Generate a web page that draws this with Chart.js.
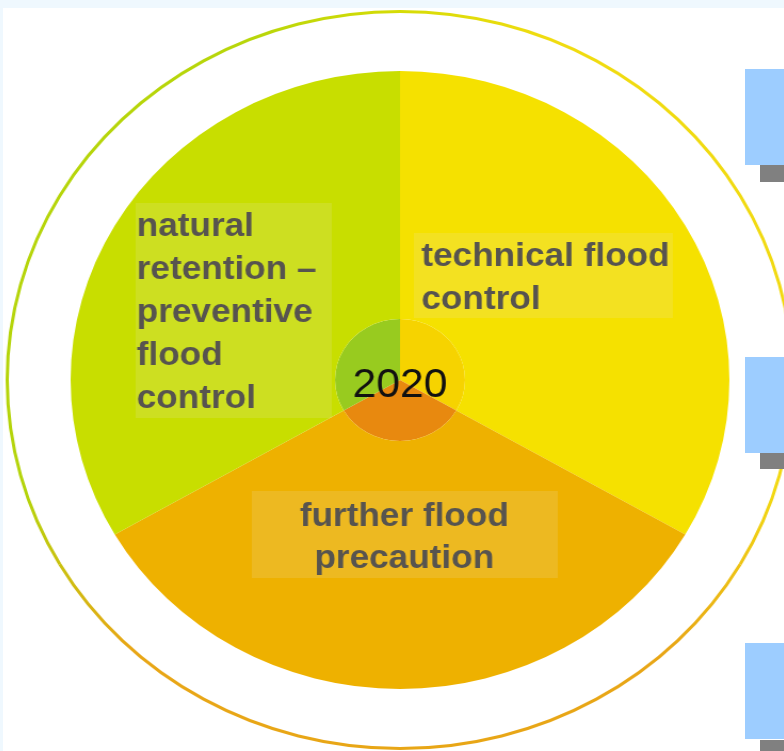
<!DOCTYPE html>
<html>
<head>
<meta charset="utf-8">
<script src="https://cdn.jsdelivr.net/npm/chart.js@4"></script>
<style>
  html, body { margin:0; padding:0; width:784px; height:751px; overflow:hidden; background:#eff8fe; }
  #panel { position:absolute; left:3px; top:8px; right:0; bottom:0; background:#fff; }
  #chart { position:absolute; left:0; top:0; transform:scaleX(1.066); transform-origin:400px 0; }
  .tab { position:absolute; left:745px; width:39px; height:96px; background:#9dcdff; }
  .shadow { position:absolute; left:760px; width:24px; background:#808080; }
</style>
</head>
<body>
<div id="panel"></div>
<canvas id="chart" width="784" height="751"></canvas>
<div class="shadow" style="top:165px;height:17px"></div>
<div class="tab" style="top:69px"></div>
<div class="shadow" style="top:453px;height:16px"></div>
<div class="tab" style="top:357px"></div>
<div class="shadow" style="top:740px;height:11px"></div>
<div class="tab" style="top:643px"></div>
<script>
// ── Données ───────────────────────────────────────────────────────────────────
const categories  = ['technical flood control', 'further flood precaution', 'natural retention – preventive flood control'];
const shares      = [1, 1, 1];
const labelLines  = [
  ['technical flood', 'control'],
  ['further flood', 'precaution'],
  ['natural', 'retention –', 'preventive', 'flood', 'control'],
];
const centerLabel = '2020';

// ── Couleurs ──────────────────────────────────────────────────────────────────
const sliceColors  = ['#f5e100', '#eeb100', '#c8de00'];
const centerColors = ['#f6d300', '#e8890f', '#98cb1f'];

// boîtes de texte, décalages depuis le centre du camembert (px, avant étirement)
const labelBoxes = [
  { box: [13, -147, 243, 85],  x: 20,   align: 'left',   lines: [-123, -80] },
  { box: [-139, 111, 287, 87], x: 4,    align: 'center', lines: [137, 179] },
  { box: [-248, -177, 184, 215], x: -247, align: 'left', lines: [-153, -110, -67, -24, 19] },
];

let ringGradient = null;
function ringColor(ctx) {
  const chart = ctx.chart;
  const area = chart.chartArea;
  if (!area) return '#e0d000';
  if (ringGradient) return ringGradient;
  const cx = (area.left + area.right) / 2;
  const cy = (area.top + area.bottom) / 2;
  const g = chart.ctx.createConicGradient(-Math.PI / 2, cx, cy);
  g.addColorStop(0.00, '#d6dc06');
  g.addColorStop(0.06, '#f0dc10');
  g.addColorStop(0.30, '#f2d812');
  g.addColorStop(0.38, '#e8a616');
  g.addColorStop(0.62, '#e8a616');
  g.addColorStop(0.70, '#b4d40a');
  g.addColorStop(0.94, '#b8d60a');
  g.addColorStop(1.00, '#d6dc06');
  ringGradient = g;
  return g;
}

const labelPlugin = {
  id: 'sliceLabels',
  afterDatasetsDraw(chart) {
    const { ctx, chartArea } = chart;
    const cx = (chartArea.left + chartArea.right) / 2;
    const cy = (chartArea.top + chartArea.bottom) / 2;
    ctx.save();
    labelBoxes.forEach((b, i) => {
      ctx.fillStyle = 'rgba(235,232,205,0.16)';
      ctx.fillRect(cx + b.box[0], cy + b.box[1], b.box[2], b.box[3]);
      ctx.fillStyle = '#57544f';
      ctx.font = 'bold 33px "Liberation Sans", Arial, sans-serif';
      ctx.textAlign = b.align;
      ctx.textBaseline = 'middle';
      labelLines[i].forEach((line, k) => ctx.fillText(line, cx + b.x, cy + b.lines[k]));
    });
    ctx.fillStyle = '#111';
    ctx.font = '40px "Liberation Sans", Arial, sans-serif';
    ctx.textAlign = 'center';
    ctx.textBaseline = 'middle';
    ctx.fillText(centerLabel, cx, cy + 6);
    ctx.restore();
  },
};

new Chart(document.getElementById('chart').getContext('2d'), {
  type: 'pie',
  data: {
    labels: categories,
    datasets: [
      { data: shares, backgroundColor: ringColor, weight: 3 },
      { data: shares, backgroundColor: 'rgba(0,0,0,0)', weight: 58 },
      { data: shares, backgroundColor: sliceColors, weight: 248 },
      { data: shares, backgroundColor: centerColors, weight: 61 },
    ],
  },
  options: {
    responsive: false,
    animation: false,
    layout: { padding: { top: 10, bottom: 1, left: 30, right: 14 } },
    elements: { arc: { borderWidth: 0, hoverBorderWidth: 0, hoverOffset: 0, offset: 0 } },
    plugins: { legend: { display: false }, tooltip: { enabled: false } },
  },
  plugins: [labelPlugin],
});
</script>
</body>
</html>
